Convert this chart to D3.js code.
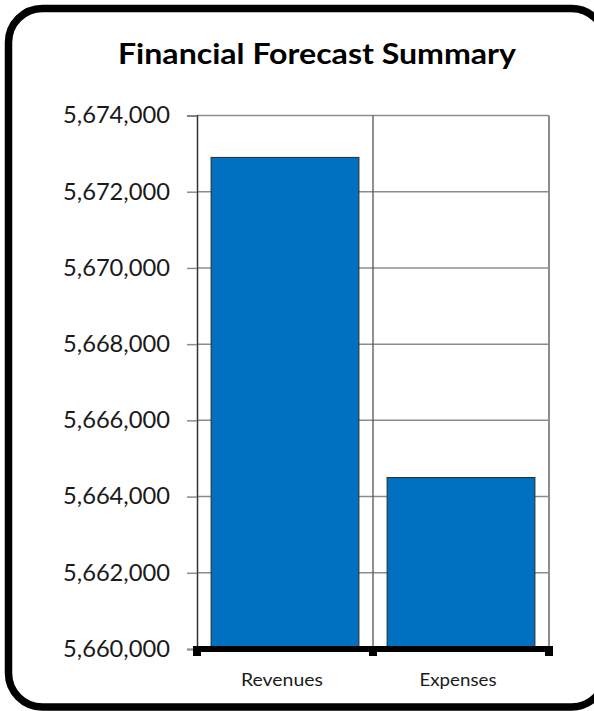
<!DOCTYPE html>
<html>
<head>
<meta charset="utf-8">
<script src="https://cdn.jsdelivr.net/npm/d3@7"></script>
<style>
  html, body { margin: 0; padding: 0; background: #fff; }
  svg { display: block; }
</style>
</head>
<body>
<svg id="chart" width="594" height="711"></svg>
<script>
// Forecast totals
const categories = ["Revenues", "Expenses"];
const values = [5672900, 5664500];
const yTicks = [5660000, 5662000, 5664000, 5666000, 5668000, 5670000, 5672000, 5674000];
const yDomain = [5660000, 5674000];
const titleText = "Financial Forecast Summary";

const svg = d3.select("#chart");
const font = "Lato, 'Open Sans', sans-serif";

// Rounded card frame
svg.append("rect")
  .attr("x", 8.5).attr("y", 8.5)
  .attr("width", 597).attr("height", 698.5)
  .attr("rx", 34).attr("ry", 34)
  .attr("fill", "#fff")
  .attr("stroke", "#000")
  .attr("stroke-width", 7.5);

// Title
svg.append("text")
  .attr("x", 317).attr("y", 64)
  .attr("text-anchor", "middle")
  .attr("font-family", font)
  .attr("font-weight", 700)
  .attr("font-size", 29)
  .attr("textLength", 398)
  .attr("lengthAdjust", "spacingAndGlyphs")
  .attr("fill", "#000")
  .text(titleText);

const plot = { left: 197, right: 549, top: 115.5, bottom: 649 };

const y = d3.scaleLinear().domain(yDomain).range([plot.bottom, plot.top]);
const x = d3.scaleBand().domain(categories)
  .range([plot.left, plot.right])
  .paddingInner(0.16).paddingOuter(0.08);
const xCat = d3.scaleBand().domain(categories).range([plot.left, plot.right]);

const g = svg.append("g");

// Horizontal gridlines
g.selectAll("line.grid")
  .data(yTicks.filter(t => t > yDomain[0]))
  .join("line")
  .attr("class", "grid")
  .attr("x1", plot.left).attr("x2", plot.right)
  .attr("y1", d => y(d)).attr("y2", d => y(d))
  .attr("stroke", "#8c8c8c")
  .attr("stroke-width", 1.5);

// Category separators and plot borders
g.selectAll("line.sep")
  .data(categories.slice(1))
  .join("line")
  .attr("class", "sep")
  .attr("x1", d => xCat(d)).attr("x2", d => xCat(d))
  .attr("y1", plot.top).attr("y2", plot.bottom)
  .attr("stroke", "#555")
  .attr("stroke-width", 1.3);

g.append("line")
  .attr("x1", plot.right).attr("x2", plot.right)
  .attr("y1", plot.top).attr("y2", plot.bottom)
  .attr("stroke", "#8c8c8c").attr("stroke-width", 2);

// Bars
g.selectAll("rect.bar")
  .data(categories.map((c, i) => ({ c, v: values[i] })))
  .join("rect")
  .attr("class", "bar")
  .attr("x", d => x(d.c))
  .attr("width", x.bandwidth())
  .attr("y", d => y(d.v))
  .attr("height", d => y(yDomain[0]) - y(d.v))
  .attr("fill", "#0070C0")
  .attr("stroke", "#2b2b2b")
  .attr("stroke-width", 1);

// Y axis
const yAxis = d3.axisLeft(y)
  .tickValues(yTicks)
  .tickSize(10)
  .tickPadding(17)
  .tickFormat(d3.format(","));

const ya = svg.append("g")
  .attr("transform", `translate(${plot.left},0)`)
  .call(yAxis);
ya.select(".domain").attr("stroke", "#333").attr("stroke-width", 1.5);
ya.selectAll(".tick line").attr("stroke", "#8c8c8c").attr("stroke-width", 1.5);
ya.selectAll(".tick text")
  .attr("font-family", font)
  .attr("font-size", 23)
  .attr("textLength", 107)
  .attr("lengthAdjust", "spacingAndGlyphs")
  .attr("fill", "#1a1a1a");

// X axis: heavy baseline with block ticks
const xa = svg.append("g");
xa.append("rect")
  .attr("x", plot.left - 4).attr("y", plot.bottom - 3)
  .attr("width", plot.right - plot.left + 8).attr("height", 6)
  .attr("fill", "#000");
const tickXs = [plot.left, ...categories.slice(1).map(c => xCat(c)), plot.right];
xa.selectAll("rect.tk")
  .data(tickXs)
  .join("rect")
  .attr("class", "tk")
  .attr("x", d => d - 4).attr("y", plot.bottom)
  .attr("width", 8).attr("height", 7)
  .attr("fill", "#000");

const catWidths = [82, 77];
xa.selectAll("text.cat")
  .data(categories)
  .join("text")
  .attr("class", "cat")
  .attr("x", d => xCat(d) + xCat.bandwidth() / 2 - 3)
  .attr("y", 686)
  .attr("text-anchor", "middle")
  .attr("font-family", font)
  .attr("font-size", 18)
  .attr("textLength", (d, i) => catWidths[i])
  .attr("lengthAdjust", "spacingAndGlyphs")
  .attr("fill", "#1a1a1a")
  .text(d => d);
</script>
</body>
</html>
